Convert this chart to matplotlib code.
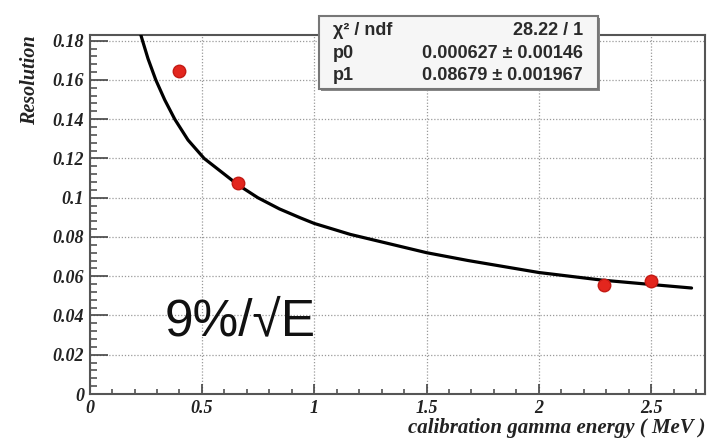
import matplotlib
matplotlib.use("Agg")
import matplotlib.pyplot as plt
from matplotlib.patches import Rectangle
from matplotlib.ticker import FixedLocator, MultipleLocator

# measured points (energy in MeV, resolution)
energy = [0.398, 0.662, 2.29, 2.50]
resolution = [0.1646, 0.1076, 0.0557, 0.0574]

# fit curve
fit_e = [0.220, 0.2355, 0.260, 0.2946, 0.3345, 0.379, 0.438, 0.51, 0.66,
         0.749, 0.845, 0.937, 1.0, 1.161, 1.5, 1.685, 2.0, 2.283, 2.5, 2.68]
fit_r = [0.1860, 0.1800, 0.1708, 0.1600, 0.1498, 0.1400, 0.1294, 0.1200, 0.1066,
         0.1000, 0.0943, 0.0898, 0.0869, 0.0813, 0.0720, 0.0680, 0.0619, 0.0580, 0.0558, 0.0540]

xticks = [0, 0.5, 1, 1.5, 2, 2.5]
xtick_labels = ["0", "0.5", "1", "1.5", "2", "2.5"]
yticks = [0, 0.02, 0.04, 0.06, 0.08, 0.1, 0.12, 0.14, 0.16, 0.18]
ytick_labels = ["0", "0.02", "0.04", "0.06", "0.08", "0.1", "0.12", "0.14", "0.16", "0.18"]

stat_names = ["χ² / ndf", "p0", "p1"]
stat_values = ["28.22 / 1", "0.000627 ± 0.00146", "0.08679 ± 0.001967"]

serif_bi = dict(family="Liberation Serif", weight="bold", style="italic")

fig = plt.figure(figsize=(7.08, 4.40), dpi=100)
ax = fig.add_axes([0.1266, 0.1045, 0.8692, 0.816])

ax.plot(fit_e, fit_r, color="black", lw=2.3, zorder=3,
        solid_joinstyle="round", solid_capstyle="round")
ax.plot(energy, resolution, "o", ms=9, mfc="#e3261e", mec="#c41a14", mew=1, zorder=4)

ax.set_xlim(0, 2.74)
ax.set_ylim(0, 0.1829)

ax.xaxis.set_major_locator(FixedLocator(xticks))
ax.yaxis.set_major_locator(FixedLocator(yticks))
ax.xaxis.set_minor_locator(MultipleLocator(0.1))
ax.yaxis.set_minor_locator(MultipleLocator(0.004))
ax.set_xticklabels(xtick_labels, fontsize=13, color="#222", **serif_bi)
ax.set_yticklabels(ytick_labels, fontsize=13, color="#222", **serif_bi)

ax.tick_params(axis="x", which="major", direction="in", length=7.5, width=1.2, color="#444", pad=4)
ax.tick_params(axis="x", which="minor", direction="in", length=3.6, width=1.1, color="#444")
ax.tick_params(axis="y", which="major", direction="in", length=13, width=1.2, color="#444", pad=4)
ax.tick_params(axis="y", which="minor", direction="in", length=5, width=1.1, color="#444")

ax.grid(True, which="major", color="#9a9a9a", lw=0.9, linestyle=(0, (1, 1.5)))
for s in ax.spines.values():
    s.set_color("#555")
    s.set_linewidth(1.5)

ax.set_xlabel("calibration gamma energy ( MeV )", loc="right", fontsize=15, color="#222", **serif_bi)
ax.set_ylabel("Resolution", loc="top", fontsize=14.5, color="#222", **serif_bi)
ax.xaxis.set_label_coords(1.0, -0.066)
ax.yaxis.set_label_coords(-0.08, 1.0)

ax.text(0.335, 0.030, "9%/√E", fontsize=37, family="Liberation Sans", color="#111",
        ha="left", va="baseline", zorder=5)

# stats box
fig.patches.append(Rectangle((0.4536, 0.7927), 0.3936, 0.1666, transform=fig.transFigure,
                             facecolor="#888", edgecolor="none", zorder=5))
fig.patches.append(Rectangle((0.4506, 0.7977), 0.3936, 0.1666, transform=fig.transFigure,
                             facecolor="#f6f6f6", edgecolor="#777", lw=1.5, zorder=6))
row_y = [0.9318, 0.8795, 0.8273]
for name, val, y in zip(stat_names, stat_values, row_y):
    fig.text(0.4703, y, name, fontsize=13, family="Liberation Sans", weight="bold",
             color="#2a2a2a", ha="left", va="center", zorder=7)
    fig.text(0.823, y, val, fontsize=13, family="Liberation Sans", weight="bold",
             color="#2a2a2a", ha="right", va="center", zorder=7)

fig.savefig("out.png", dpi=100)
